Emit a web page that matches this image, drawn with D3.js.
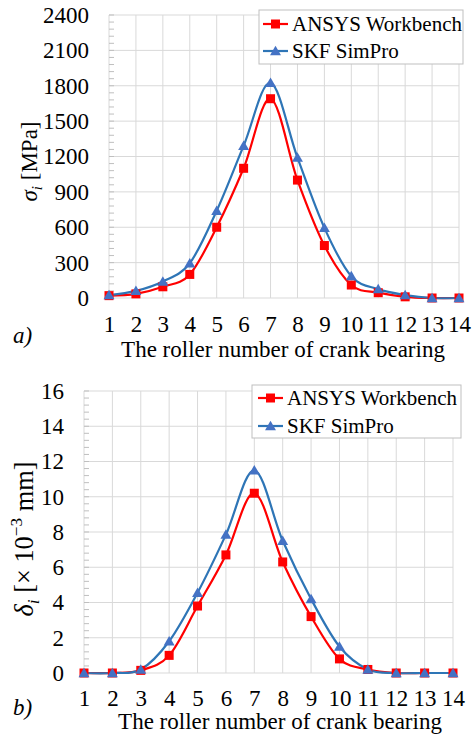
<!DOCTYPE html>
<html><head><meta charset="utf-8">
<script src="https://cdn.jsdelivr.net/npm/d3@7"></script>
</head>
<body style="margin:0;background:#fff">
<svg id="chart" width="474" height="738"></svg>
<script>
const rollers = [1,2,3,4,5,6,7,8,9,10,11,12,13,14];
const seriesNames = ["ANSYS Workbench","SKF SimPro"];
// a) contact stress, MPa
const stressAnsys = [20,35,95,200,600,1100,1690,1000,445,110,45,10,0,0];
const stressSkf   = [25,60,140,295,740,1290,1825,1190,595,185,75,25,0,0];
const stressTicks = [0,300,600,900,1200,1500,1800,2100,2400];
// b) deformation, x10^-3 mm
const deformAnsys = [0,0,0.15,1.0,3.8,6.7,10.2,6.3,3.2,0.8,0.2,0,0,0];
const deformSkf   = [0,0,0.2,1.8,4.55,7.85,11.5,7.5,4.2,1.5,0.2,0,0,0];
const deformTicks = [0,2,4,6,8,10,12,14,16];
const xTitle = "The roller number of crank bearing";

const RED = "#ff0000", BLUE_LINE = "#2e75b6", BLUE_MARK = "#4472c4", GRID = "#d9d9d9";
const FS = 23, LFS = 21, FONT = "Liberation Serif";
const svg = d3.select("#chart");

function panel(cfg){
  const g = svg.append("g");
  const x = d3.scaleLinear().domain([1,14]).range([cfg.left, cfg.right]);
  const y = d3.scaleLinear().domain([0, cfg.ticks[cfg.ticks.length-1]]).range([cfg.bottom, cfg.top]);
  g.selectAll(".hg").data(cfg.ticks).join("line")
    .attr("x1", cfg.left).attr("x2", cfg.right)
    .attr("y1", d=>y(d)).attr("y2", d=>y(d))
    .attr("stroke", GRID).attr("stroke-width", 1);
  g.selectAll(".vg").data(rollers).join("line")
    .attr("x1", d=>x(d)).attr("x2", d=>x(d))
    .attr("y1", cfg.top).attr("y2", cfg.bottom)
    .attr("stroke", GRID).attr("stroke-width", 1);
  const minor = d3.range(0, cfg.ticks[cfg.ticks.length-1] + 1e-9, cfg.minor);
  g.selectAll(".mt").data(minor).join("line")
    .attr("x1", cfg.left).attr("x2", cfg.left + 5)
    .attr("y1", d=>y(d)).attr("y2", d=>y(d))
    .attr("stroke", "#bfbfbf").attr("stroke-width", 1);
  const yAxis = d3.axisLeft(y).tickValues(cfg.ticks).tickFormat(d3.format("d")).tickSize(0).tickPadding(cfg.left - cfg.labelX);
  const ya = g.append("g").attr("transform", `translate(${cfg.left},0)`).call(yAxis);
  ya.select(".domain").remove();
  ya.attr("font-family", FONT).attr("font-size", FS);
  ya.selectAll("text").attr("font-family", FONT).attr("font-size", FS);
  const xAxis = d3.axisBottom(x).tickValues(rollers).tickSize(0).tickPadding(cfg.xLabelY - cfg.bottom - 16.3);
  const xa = g.append("g").attr("transform", `translate(0,${cfg.bottom})`).call(xAxis);
  xa.select(".domain").remove();
  xa.attr("font-family", FONT).attr("font-size", FS);
  xa.selectAll("text").attr("font-family", FONT).attr("font-size", FS);
  g.append("text").attr("x", cfg.titleX).attr("y", cfg.titleY).attr("text-anchor","middle")
    .attr("font-family", FONT).attr("font-size", FS).text(xTitle);
  g.append("text").attr("x", 13).attr("y", cfg.tagY).attr("font-family", FONT).attr("font-size", 23)
    .attr("font-style","italic").text(cfg.tag);
  // rotated y title, scaled to the reference length
  const yt = g.append("text").attr("transform", `translate(${cfg.yTitleX},${cfg.yTitleY}) rotate(-90)`)
    .attr("text-anchor","middle").attr("font-family", FONT).attr("font-size", FS);
  cfg.yTitle(yt, FS);
  const len = yt.node().getComputedTextLength();
  if (len > 0) {
    const k = cfg.yTitleLen / len;
    if (Math.abs(k - 1) > 0.04) {
      yt.selectAll("tspan").remove();
      yt.attr("font-size", FS * k);
      cfg.yTitle(yt, FS * k);
    }
  }
  const line = d3.line().x((d,i)=>x(rollers[i])).y(d=>y(d)).curve(d3.curveCardinal.tension(0));
  g.append("path").datum(cfg.a).attr("d", line).attr("fill","none").attr("stroke", RED).attr("stroke-width", 2.2);
  g.append("path").datum(cfg.b).attr("d", line).attr("fill","none").attr("stroke", BLUE_LINE).attr("stroke-width", 2.2);
  const sq = 9;
  g.selectAll(".sq").data(cfg.a).join("rect")
    .attr("x", (d,i)=>x(rollers[i]) - sq/2).attr("y", d=>y(d) - sq/2)
    .attr("width", sq).attr("height", sq).attr("fill", RED);
  const tri = d3.symbol().type(d3.symbolTriangle).size(52);
  g.selectAll(".tr").data(cfg.b).join("path")
    .attr("transform", (d,i)=>`translate(${x(rollers[i])},${y(d)+1})`)
    .attr("d", tri).attr("fill", BLUE_MARK);
  const L = cfg.legend;
  const lg = g.append("g");
  lg.append("rect").attr("x", L.x).attr("y", L.y).attr("width", L.w).attr("height", L.h)
    .attr("fill","#fff").attr("stroke","#bfbfbf").attr("stroke-width",1);
  const rows = [{name:seriesNames[0], c:RED, m:"sq"},{name:seriesNames[1], c:BLUE_LINE, m:"tri"}];
  rows.forEach((r,i)=>{
    const cy = L.y + L.off + i*L.gap;
    lg.append("line").attr("x1", L.x+L.lx).attr("x2", L.x+L.lx+25).attr("y1", cy).attr("y2", cy)
      .attr("stroke", r.c).attr("stroke-width", 2.2);
    const mx = L.x + L.lx + 12.5;
    if(r.m==="sq") lg.append("rect").attr("x", mx-sq/2).attr("y", cy-sq/2).attr("width",sq).attr("height",sq).attr("fill",RED);
    else lg.append("path").attr("transform",`translate(${mx},${cy+1})`).attr("d", tri).attr("fill", BLUE_MARK);
    lg.append("text").attr("x", L.x+L.tx).attr("y", cy+7).attr("font-family", FONT).attr("font-size", LFS).text(r.name);
  });
}

panel({
  left:109, right:459, top:15, bottom:298, ticks:stressTicks, minor:60, labelX:89,
  xLabelY:332, titleX:283, titleY:357, tag:"a)", tagY:343,
  yTitleX:37, yTitleY:161.5, yTitleLen:83,
  yTitle: (t, f) => { t.append("tspan").attr("font-style","italic").text("σ");
                 t.append("tspan").attr("font-style","italic").attr("font-size",f*0.65).attr("dy",f*0.22).text("i");
                 t.append("tspan").attr("dy",-f*0.22).text(" [MPa]"); },
  a:stressAnsys, b:stressSkf,
  legend:{x:259, y:10, w:204, h:54, off:14, gap:27, lx:4, tx:33}
});
panel({
  left:84, right:453, top:391, bottom:673, ticks:deformTicks, minor:0.4, labelX:64,
  xLabelY:706, titleX:280, titleY:729, tag:"b)", tagY:715,
  yTitleX:33, yTitleY:539, yTitleLen:155,
  yTitle: (t, f) => { t.append("tspan").attr("font-style","italic").text("δ");
                 t.append("tspan").attr("font-style","italic").attr("font-size",f*0.65).attr("dy",f*0.22).text("i");
                 t.append("tspan").attr("dy",-f*0.22).text(" [× 10");
                 t.append("tspan").attr("font-size",f*0.65).attr("dy",-f*0.4).text("−3");
                 t.append("tspan").attr("dy",f*0.4).text(" mm]"); },
  a:deformAnsys, b:deformSkf,
  legend:{x:252, y:385, w:209, h:53, off:13, gap:28, lx:6, tx:35}
});
</script>
</body></html>
